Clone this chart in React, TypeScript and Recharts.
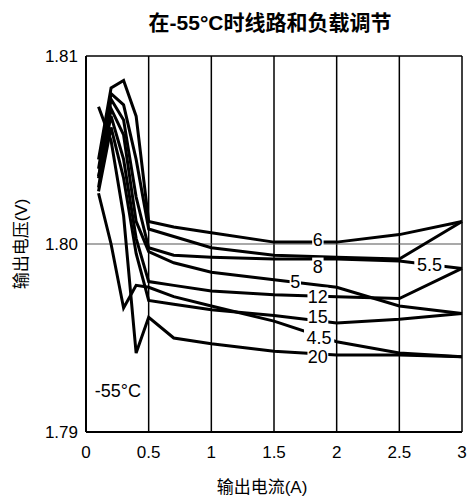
import { LineChart, Line, XAxis, YAxis, CartesianGrid, ReferenceLine, ReferenceDot } from "recharts";

// output current (A)
const current = [0.1, 0.2, 0.3, 0.4, 0.5, 0.7, 1, 1.5, 2, 2.5, 3];

// output voltage (V) per input voltage
const v6 = [1.8045, 1.8083, 1.8087, 1.8068, 1.8012, 1.8009, 1.8006, 1.8001, 1.8001, 1.8005, 1.8012];
const v8 = [1.804, 1.808, 1.8074, 1.8045, 1.8008, 1.8004, 1.7998, 1.7994, 1.7993, 1.7992, 1.8012];
const v55 = [1.8035, 1.8077, 1.8066, 1.8025, 1.7998, 1.7994, 1.7993, 1.7992, 1.7992, 1.7991, 1.7987];
const v5 = [1.803, 1.8072, 1.8058, 1.8012, 1.7996, 1.799, 1.7985, 1.7981, 1.7977, 1.7967, 1.7963];
const v12 = [1.8036, 1.8068, 1.8045, 1.8003, 1.798, 1.7978, 1.7975, 1.7973, 1.7972, 1.7971, 1.7987];
const v15 = [1.8028, 1.8062, 1.8035, 1.7995, 1.797, 1.7968, 1.7965, 1.7962, 1.7958, 1.796, 1.7963];
const v45 = [1.8027, 1.8, 1.7966, 1.7978, 1.7977, 1.7972, 1.7967, 1.7959, 1.7948, 1.7942, 1.794];
const v20 = [1.8073, 1.8055, 1.8015, 1.7942, 1.7961, 1.795, 1.7947, 1.7943, 1.7941, 1.7941, 1.794];

const seriesKeys = ["v6", "v8", "v55", "v5", "v12", "v15", "v45", "v20"];
const seriesValues = [v6, v8, v55, v5, v12, v15, v45, v20];

const xTicks = [0, 0.5, 1, 1.5, 2, 2.5, 3];
const yTicks = [1.79, 1.8, 1.81];

// curve labels: text, current, voltage
const labelText = ["6", "8", "5.5", "5", "12", "15", "4.5", "20"];
const labelX = [1.85, 1.85, 2.74, 1.67, 1.85, 1.85, 1.86, 1.85];
const labelY = [1.8002, 1.7988, 1.7989, 1.798, 1.7972, 1.7961, 1.795, 1.794];

const data = current.map((x, i) => {
  const row: Record<string, number> = { x };
  seriesKeys.forEach((k, j) => {
    row[k] = seriesValues[j][i];
  });
  return row;
});

const font = "'Liberation Sans', Arial, 'Noto Sans CJK SC', sans-serif";

const TagLabel = (text: string) => (props: any) => {
  const w = text.length * 9.4 + 2;
  return (
    <g>
      <rect x={props.cx - w / 2} y={props.cy - 9} width={w} height={18} fill="#fff" />
      <text x={props.cx} y={props.cy} textAnchor="middle" dominantBaseline="central" fontSize={18} fontFamily={font} fill="#000">
        {text}
      </text>
    </g>
  );
};

export default function App() {
  return (
    <div style={{ position: "absolute", left: 0, top: 0, width: 471, height: 500, background: "#fff", fontFamily: font }}>
      <div style={{ position: "absolute", left: 70, top: 12, width: 400, textAlign: "center", fontSize: 21, lineHeight: "22px", fontWeight: "bold" }}>
        在-55°C时线路和负载调节
      </div>
      <div style={{ position: "absolute", left: 162, top: 479, width: 200, textAlign: "center", fontSize: 17, lineHeight: "18px" }}>
        输出电流(A)
      </div>
      <div
        style={{
          position: "absolute",
          left: 22,
          top: 244,
          fontSize: 17,
          lineHeight: "18px",
          transform: "translate(-50%, -50%) rotate(-90deg)",
          whiteSpace: "nowrap",
        }}
      >
        输出电压(V)
      </div>
      <LineChart width={471} height={500} data={data} margin={{ top: 56, right: 9, left: 0, bottom: 0 }}>
        <CartesianGrid horizontal={false} stroke="#000" strokeWidth={1.5} strokeOpacity={1} />
        <ReferenceLine y={1.8} stroke="#555" strokeWidth={1.2} />
        <ReferenceLine y={1.81} stroke="#000" strokeWidth={1.5} />
        <XAxis
          type="number"
          dataKey="x"
          domain={[0, 3]}
          ticks={xTicks}
          tickLine={false}
          tickMargin={8}
          axisLine={{ stroke: "#000", strokeWidth: 2 }}
          height={68}
          tick={{ fill: "#000", fontSize: 17, fontFamily: font }}
          tickFormatter={(v) => String(v)}
        />
        <YAxis
          type="number"
          domain={[1.79, 1.81]}
          ticks={yTicks}
          tickLine={false}
          axisLine={{ stroke: "#000", strokeWidth: 2 }}
          width={86}
          tick={{ fill: "#000", fontSize: 17, fontFamily: font }}
          tickFormatter={(v) => v.toFixed(2)}
        />
        {seriesKeys.map((k) => (
          <Line key={k} type="linear" dataKey={k} stroke="#000" strokeWidth={3} dot={false} isAnimationActive={false} />
        ))}
        {labelText.map((t, i) => (
          <ReferenceDot key={t} x={labelX[i]} y={labelY[i]} r={0} shape={TagLabel(t)} />
        ))}
        <ReferenceDot
          x={0.255}
          y={1.7922}
          r={0}
          shape={(p: any) => (
            <text x={p.cx} y={p.cy} textAnchor="middle" dominantBaseline="central" fontSize={18} fontFamily={font}>
              -55°C
            </text>
          )}
        />
      </LineChart>
    </div>
  );
}
